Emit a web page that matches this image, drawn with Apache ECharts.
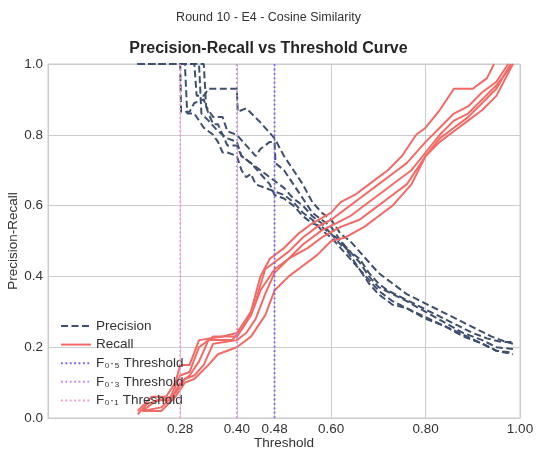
<!DOCTYPE html>
<html>
<head>
<meta charset="utf-8">
<script src="https://cdn.jsdelivr.net/npm/echarts@6/dist/echarts.min.js"></script>
<style>html,body{margin:0;padding:0;background:#fff}#c{width:537px;height:451px}</style>
</head>
<body>
<div id="c"></div>
<script>
const xTicks = [0.28, 0.40, 0.48, 0.60, 0.80, 1.00];
const yTicks = [0, 0.2, 0.4, 0.6, 0.8, 1.0];
const thresholds = [0.48, 0.40, 0.28];
const thresholdNames = ['F\u2080\u00b7\u2085 Threshold', 'F\u2080\u00b7\u2083 Threshold', 'F\u2080\u00b7\u2081 Threshold'];

const precision1 = [[0.19,1.0],[0.28,1.0],[0.282,0.865],[0.30,0.865],[0.31,0.89],[0.33,0.90],[0.34,0.86],[0.35,0.83],[0.36,0.83],[0.37,0.80],[0.38,0.77],[0.40,0.77],[0.41,0.74],[0.43,0.72],[0.45,0.69],[0.47,0.66],[0.48,0.63],[0.50,0.62],[0.52,0.60],[0.54,0.57],[0.56,0.55],[0.58,0.54],[0.60,0.52],[0.62,0.49],[0.64,0.47],[0.66,0.45],[0.68,0.41],[0.70,0.38],[0.72,0.36],[0.75,0.34],[0.78,0.32],[0.81,0.30],[0.84,0.28],[0.87,0.26],[0.90,0.24],[0.93,0.225],[0.96,0.215],[0.985,0.215]];
const precision2 = [[0.19,1.0],[0.31,1.0],[0.315,0.91],[0.33,0.91],[0.34,0.93],[0.40,0.93],[0.402,0.865],[0.42,0.875],[0.45,0.835],[0.48,0.79],[0.50,0.74],[0.52,0.70],[0.54,0.66],[0.56,0.61],[0.58,0.58],[0.60,0.56],[0.62,0.52],[0.64,0.50],[0.66,0.47],[0.68,0.44],[0.70,0.41],[0.73,0.38],[0.76,0.35],[0.79,0.33],[0.82,0.31],[0.85,0.29],[0.88,0.27],[0.91,0.25],[0.94,0.23],[0.97,0.215],[0.985,0.21]];
const precision3 = [[0.19,1.0],[0.33,1.0],[0.335,0.88],[0.35,0.85],[0.37,0.85],[0.38,0.81],[0.40,0.80],[0.42,0.77],[0.44,0.74],[0.45,0.76],[0.47,0.78],[0.48,0.78],[0.482,0.72],[0.50,0.70],[0.52,0.66],[0.54,0.62],[0.56,0.58],[0.58,0.56],[0.60,0.54],[0.62,0.50],[0.64,0.47],[0.66,0.44],[0.68,0.40],[0.70,0.37],[0.73,0.35],[0.76,0.33],[0.80,0.30],[0.84,0.27],[0.88,0.24],[0.92,0.22],[0.95,0.20],[0.985,0.195]];
const precision4 = [[0.19,1.0],[0.29,1.0],[0.295,0.86],[0.31,0.86],[0.33,0.82],[0.35,0.80],[0.36,0.78],[0.37,0.75],[0.38,0.75],[0.40,0.74],[0.41,0.70],[0.42,0.68],[0.43,0.69],[0.44,0.66],[0.46,0.65],[0.48,0.64],[0.50,0.63],[0.52,0.61],[0.54,0.58],[0.56,0.56],[0.58,0.53],[0.60,0.51],[0.62,0.48],[0.64,0.45],[0.66,0.42],[0.68,0.38],[0.70,0.35],[0.73,0.32],[0.76,0.31],[0.80,0.28],[0.84,0.26],[0.88,0.23],[0.92,0.21],[0.95,0.19],[0.985,0.185]];
const precision5 = [[0.19,1.0],[0.32,1.0],[0.325,0.86],[0.34,0.84],[0.36,0.81],[0.38,0.79],[0.40,0.78],[0.41,0.74],[0.43,0.72],[0.45,0.70],[0.47,0.68],[0.48,0.67],[0.50,0.65],[0.52,0.62],[0.54,0.60],[0.56,0.57],[0.58,0.55],[0.60,0.52],[0.62,0.50],[0.64,0.46],[0.66,0.42],[0.68,0.39],[0.70,0.36],[0.73,0.33],[0.76,0.31],[0.80,0.285],[0.84,0.26],[0.88,0.235],[0.92,0.21],[0.95,0.19],[0.985,0.18]];

const recall1 = [[0.19,0.02],[0.22,0.06],[0.25,0.06],[0.27,0.10],[0.28,0.15],[0.30,0.15],[0.32,0.22],[0.37,0.23],[0.40,0.24],[0.43,0.30],[0.45,0.40],[0.47,0.45],[0.50,0.48],[0.53,0.52],[0.56,0.55],[0.60,0.58],[0.62,0.61],[0.65,0.63],[0.68,0.66],[0.72,0.70],[0.75,0.74],[0.78,0.80],[0.80,0.82],[0.83,0.87],[0.86,0.93],[0.90,0.93],[0.93,0.96],[0.945,1.0]];
const recall2 = [[0.19,0.01],[0.21,0.04],[0.26,0.06],[0.28,0.12],[0.30,0.13],[0.32,0.20],[0.35,0.23],[0.40,0.23],[0.42,0.27],[0.44,0.33],[0.46,0.42],[0.48,0.44],[0.51,0.47],[0.54,0.51],[0.57,0.54],[0.60,0.56],[0.63,0.59],[0.66,0.62],[0.70,0.66],[0.73,0.69],[0.76,0.72],[0.80,0.78],[0.83,0.82],[0.86,0.86],[0.89,0.88],[0.92,0.92],[0.95,0.95],[0.975,1.0]];
const recall3 = [[0.20,0.02],[0.23,0.05],[0.26,0.05],[0.28,0.10],[0.30,0.12],[0.32,0.16],[0.34,0.22],[0.39,0.22],[0.41,0.25],[0.43,0.29],[0.45,0.36],[0.48,0.42],[0.51,0.45],[0.54,0.49],[0.58,0.53],[0.61,0.55],[0.64,0.57],[0.68,0.61],[0.71,0.64],[0.74,0.67],[0.77,0.70],[0.80,0.75],[0.83,0.80],[0.86,0.84],[0.89,0.86],[0.92,0.90],[0.95,0.94],[0.985,1.0]];
const recall4 = [[0.20,0.02],[0.24,0.03],[0.27,0.07],[0.29,0.11],[0.31,0.12],[0.33,0.15],[0.35,0.21],[0.40,0.22],[0.42,0.24],[0.44,0.28],[0.46,0.35],[0.48,0.41],[0.51,0.45],[0.55,0.48],[0.58,0.51],[0.62,0.54],[0.66,0.56],[0.69,0.59],[0.72,0.62],[0.76,0.66],[0.80,0.74],[0.83,0.79],[0.86,0.82],[0.89,0.85],[0.92,0.89],[0.95,0.93],[0.98,1.0]];
const recall5 = [[0.20,0.02],[0.24,0.02],[0.27,0.06],[0.29,0.10],[0.31,0.11],[0.34,0.15],[0.36,0.18],[0.40,0.20],[0.43,0.23],[0.46,0.29],[0.48,0.36],[0.51,0.40],[0.54,0.43],[0.57,0.46],[0.60,0.50],[0.63,0.51],[0.67,0.54],[0.70,0.57],[0.73,0.60],[0.77,0.66],[0.80,0.74],[0.83,0.78],[0.86,0.81],[0.89,0.84],[0.92,0.87],[0.95,0.91],[0.985,1.0]];

const precisionSets = [precision1, precision2, precision3, precision4, precision5];
const recallSets = [recall1, recall2, recall3, recall4, recall5];

const FONT = 'Liberation Sans, Arial, sans-serif';
const precColor = '#3f4f6e';
const recColor = '#f26a66';
const thrColors = ['#7b5cf0', '#c785f2', '#f29ad6'];

const series = [];
precisionSets.forEach(d => series.push({
  name: 'Precision', type: 'line', data: d, showSymbol: false, symbol: 'none',
  lineStyle: { color: precColor, width: 2, type: [7, 3.5] }, itemStyle: { color: precColor }, z: 3
}));
recallSets.forEach(d => series.push({
  name: 'Recall', type: 'line', data: d, showSymbol: false, symbol: 'none',
  lineStyle: { color: recColor, width: 2 }, itemStyle: { color: recColor }, z: 3
}));
thresholds.forEach((t, i) => series.push({
  name: thresholdNames[i], type: 'line', data: [[t, 0], [t, 1]], showSymbol: false, symbol: 'none',
  lineStyle: { color: thrColors[i], width: 1.8, type: [1.8, 2.6] }, itemStyle: { color: thrColors[i] }, z: 4
}));

const chart = echarts.init(document.getElementById('c'), null, { renderer: 'canvas' });
chart.setOption({
  backgroundColor: '#fff',
  animation: false,
  textStyle: { fontFamily: FONT },
  title: [
    { text: 'Round 10 - E4 - Cosine Similarity', left: 'center', top: 6,
      textStyle: { fontFamily: FONT, fontSize: 12.5, fontWeight: 'normal', color: '#333' } },
    { text: 'Precision-Recall vs Threshold Curve', left: 'center', top: 36,
      textStyle: { fontFamily: FONT, fontSize: 16, fontWeight: 'bold', color: '#262626' } }
  ],
  grid: { left: 48, right: 17, top: 64, bottom: 33, show: true, borderColor: '#cccccc', borderWidth: 1,
          containLabel: false, outerBoundsMode: 'none' },
  legend: {
    orient: 'vertical', left: 55, top: 314, itemWidth: 30, itemHeight: 14, itemGap: 4.6,
    data: ['Precision', 'Recall'].concat(thresholdNames),
    itemStyle: { opacity: 0 },
    textStyle: { fontFamily: FONT, fontSize: 13.5, color: '#333' }
  },
  xAxis: {
    type: 'value', min: 0, max: 1,
    name: 'Threshold', nameLocation: 'middle', nameGap: 18, nameMoveOverlap: false,
    nameTextStyle: { fontFamily: FONT, fontSize: 13.5, color: '#333' },
    axisLine: { show: true, lineStyle: { color: '#cccccc', width: 1 } },
    axisTick: { show: false, customValues: xTicks },
    axisLabel: { customValues: xTicks, formatter: v => v.toFixed(2), color: '#333', fontSize: 13.5, margin: 4, fontFamily: FONT },
    splitLine: { show: true, lineStyle: { color: '#cccccc', width: 1 } }
  },
  yAxis: {
    type: 'value', min: 0, max: 1, interval: 0.2,
    name: 'Precision-Recall', nameLocation: 'middle', nameGap: 28, nameRotate: 90, nameMoveOverlap: false,
    nameTextStyle: { fontFamily: FONT, fontSize: 13.5, color: '#333' },
    axisLine: { show: true, lineStyle: { color: '#cccccc', width: 1 } },
    axisTick: { show: false },
    axisLabel: { formatter: v => v.toFixed(1), color: '#333', fontSize: 13.5, margin: 5, fontFamily: FONT },
    splitLine: { show: true, lineStyle: { color: '#cccccc', width: 1 } }
  },
  series: series
});
</script>
</body>
</html>
